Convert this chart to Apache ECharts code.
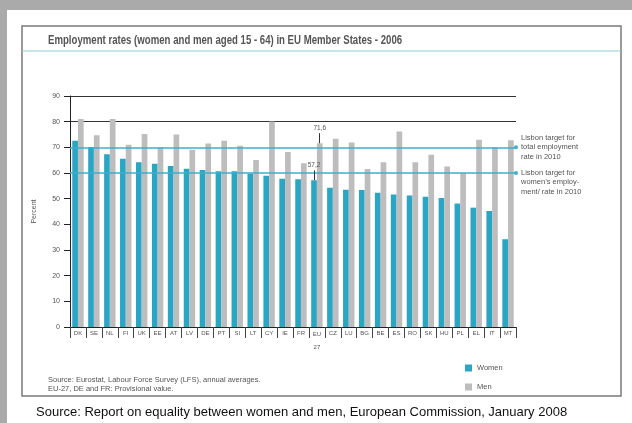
<!DOCTYPE html>
<html><head><meta charset="utf-8">
<script src="https://cdn.jsdelivr.net/npm/echarts@6/dist/echarts.min.js"></script>
<style>html,body{margin:0;padding:0;background:#aaaaaa}#c{width:632px;height:423px}</style>
</head><body><div id="c"></div>
<script>
const categories = ['DK','SE','NL','FI','UK','EE','AT','LV','DE','PT','SI','LT','CY','IE','FR','EU 27','CZ','LU','BG','BE','ES','RO','SK','HU','PL','EL','IT','MT'];
const women = [72.6, 70.1, 67.3, 65.6, 64.2, 63.6, 62.7, 61.7, 61.2, 60.7, 60.7, 59.8, 58.9, 57.8, 57.6, 57.2, 54.3, 53.5, 53.4, 52.3, 51.6, 51.2, 50.7, 50.3, 48.1, 46.5, 45.2, 34.2];
const men = [81.0, 74.7, 81.0, 71.0, 75.2, 70.0, 75.0, 69.1, 71.5, 72.6, 70.6, 65.1, 80.1, 68.2, 63.8, 71.6, 73.3, 71.9, 61.6, 64.2, 76.2, 64.2, 67.1, 62.5, 60.0, 73.0, 70.0, 72.8];
const yTicks = [0,10,20,30,40,50,60,70,80,90];
const targetTotal = 70;
const targetWomen = 60;
const euLabelWomen = '57,2';
const euLabelMen = '71,6';

const TEAL = '#2ba5c4';
const GRAY = '#bdbdbd';
const TXT = '#555';
const NARROW = '"Liberation Sans Narrow", "Liberation Sans", sans-serif';
const chart = echarts.init(document.getElementById('c'));
chart.setOption({
  backgroundColor: '#aaaaaa',
  animation: false,
  graphic: [
    {type:'rect', shape:{x:7,y:10,width:625,height:413}, style:{fill:'#fff'}, z:-10},
    {type:'rect', shape:{x:22,y:26,width:599,height:370}, style:{fill:'none', stroke:'#7a7a7a', lineWidth:1.5}, z:-9},
    {type:'line', shape:{x1:22,y1:51,x2:621,y2:51}, style:{stroke:'#8ccbdb', lineWidth:1}, z:-9},
    {type:'text', x:48, y:34, scaleX:0.77, style:{text:'Employment rates (women and men aged 15 - 64) in EU Member States - 2006', fill:TXT, font:'bold 12.5px "Liberation Sans", Arial, sans-serif'}},
    {type:'text', x:48, y:375, style:{text:'Source: Eurostat, Labour Force Survey (LFS), annual averages.\nEU-27, DE and FR: Provisional value.', fill:TXT, font:'7.5px "Liberation Sans", sans-serif', lineHeight:9}},
    {type:'text', left:36, top:406, style:{text:'Source: Report on equality between women and men, European Commission, January 2008', fill:'#111', font:'13px "Liberation Sans", Arial, sans-serif'}}
  ],
  legend: {
    orient: 'vertical', left: 460, top: 359, itemWidth: 7, itemHeight: 7, itemGap: 11,
    icon: 'rect',
    textStyle: {fontSize: 7.5, color: TXT, fontFamily: NARROW},
    data: ['Women','Men']
  },
  grid: {left: 70, right: 116, top: 96, bottom: 96},
  xAxis: {
    type: 'category', data: categories,
    axisLine: {lineStyle: {color: '#222', width: 1}},
    axisTick: {show: true, length: 11, lineStyle: {color: '#444'}},
    axisLabel: {
      fontSize: 6, color: TXT, margin: 3, interval: 0,
      fontFamily: NARROW,
      formatter: v => v === 'EU 27' ? '{a|EU}\n{b|27}' : v,
      rich: {a: {fontSize: 6, color: TXT, lineHeight: 8}, b: {fontSize: 6, color: TXT, lineHeight: 19}}
    }
  },
  yAxis: {
    type: 'value', min: 0, max: 90, interval: 10,
    name: 'Percent', nameLocation: 'middle', nameGap: 32,
    nameTextStyle: {fontSize: 7, color: TXT},
    axisLine: {show: true, lineStyle: {color: '#222'}},
    axisTick: {show: true, length: 6, lineStyle: {color: '#222'}},
    axisLabel: {fontSize: 7, color: TXT, margin: 10, formatter: v => yTicks.includes(v) ? String(v) : ''},
    splitLine: {show: true, lineStyle: {color: ['transparent','transparent','transparent','transparent','transparent','transparent','transparent','transparent','#333','#333'], width: 1}}
  },
  series: [
    {
      name: 'Women', type: 'bar', data: women, barWidth: 5.7, barGap: '0%',
      itemStyle: {color: TEAL},
      markLine: {
        silent: true, animation: false,
        symbol: ['none','circle'], symbolSize: 4,
        data: [
          {yAxis: targetTotal,
            lineStyle: {color: '#3ab1cd', width: 1.5, type: 'solid'},
            label: {show: true, position: 'end', distance: 5, color: TXT, fontSize: 7.5, lineHeight: 9.3, fontFamily: NARROW,
              formatter: 'Lisbon target for\ntotal employment\nrate in 2010'}},
          {yAxis: targetWomen,
            lineStyle: {color: '#3ab1cd', width: 1.5, type: 'solid'},
            label: {show: true, position: 'end', distance: 5, color: TXT, fontSize: 7.5, lineHeight: 9.3, fontFamily: NARROW,
              formatter: '\n\nLisbon target for\nwomen\u2019s employ-\nment/ rate in 2010'}},
          [{coord: ['EU 27', women[15]], symbol: 'none', lineStyle: {color: '#333', width: 1, type: 'solid'}},
           {coord: ['EU 27', 61], symbol: 'none',
            label: {show: true, position: 'end', formatter: euLabelWomen, fontSize: 6.5, color: TXT, distance: 2}}]
        ]
      }
    },
    {
      name: 'Men', type: 'bar', data: men, barWidth: 5.7, barGap: '0%',
      itemStyle: {color: GRAY},
      markLine: {
        silent: true, animation: false,
        symbol: 'none',
        data: [
          [{coord: ['EU 27', men[15]], lineStyle: {color: '#333', width: 1, type: 'solid'}},
           {coord: ['EU 27', 75.5],
            label: {show: true, position: 'end', formatter: euLabelMen, fontSize: 6.5, color: TXT, distance: 2}}]
        ]
      }
    }
  ]
});
</script></body></html>
